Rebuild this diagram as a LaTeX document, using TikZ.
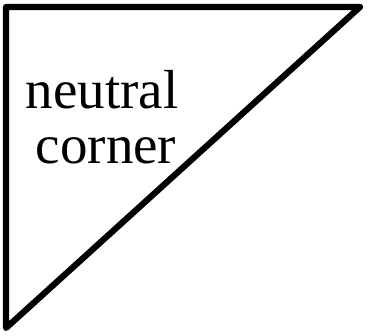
\documentclass[tikz,border=0pt]{standalone}
\usepackage{fontspec}
\setmainfont{Liberation Serif}
\usetikzlibrary{calc}

\begin{document}
\begin{tikzpicture}[x=1pt,y=-1pt,
    edge/.style={line width=6.2pt,line join=round,line cap=round},
    word/.style={inner sep=0pt,font=\fontsize{55}{55}\selectfont}]
  \useasboundingbox (0,0) rectangle (369,335);
  % corners of the triangle
  \coordinate (tl) at (6,7);
  \coordinate (tr) at (360,7);
  \coordinate (bl) at (6,328);
  \draw[edge] (tl) -- (tr) -- (bl) -- cycle;

  % label
  \node[word,anchor=base] (neutral) at (102,108) {neutral};
  \node[word,anchor=base] (corner) at (106,163) {corner};
\end{tikzpicture}
\end{document}
